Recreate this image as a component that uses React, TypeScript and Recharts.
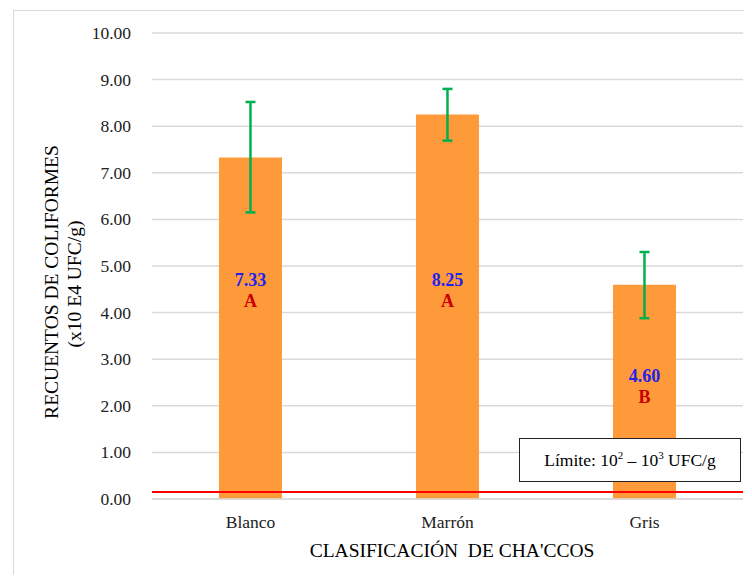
import React from 'react';
import {
  BarChart,
  Bar,
  XAxis,
  YAxis,
  CartesianGrid,
  ErrorBar,
  ReferenceLine,
  LabelList,
} from 'recharts';

const categories = ['Blanco', 'Marrón', 'Gris'];
const means = [7.33, 8.25, 4.6];
const errLow = [1.18, 0.56, 0.72];
const errHigh = [1.19, 0.55, 0.7];
const groups = ['A', 'A', 'B'];
const yTicks = [0, 1, 2, 3, 4, 5, 6, 7, 8, 9, 10];
const limit = 0.15;

const data = categories.map((c, i) => ({
  name: c,
  mean: means[i],
  err: [errLow[i], errHigh[i]],
  group: groups[i],
}));

const FONT = 'Liberation Serif';

// where the value/letter pair sits inside each bar (in axis units)
const labelLevel = [4.7, 4.7, 2.65];

const BarLabel = (props: any) => {
  const { x, y, width, height, index } = props;
  const v = means[index];
  const cy = y + height * (1 - labelLevel[index] / v);
  const cx = x + width / 2;
  return (
    <g style={{ fontFamily: FONT, fontWeight: 'bold', fontSize: 18 }} textAnchor='middle'>
      <text x={cx} y={cy} dominantBaseline='central' fill='#2222EE'>
        {v.toFixed(2)}
      </text>
      <text x={cx} y={cy + 21} dominantBaseline='central' fill='#CC0000'>
        {groups[index]}
      </text>
    </g>
  );
};

const YTick = (props: any) => {
  const { x, y, payload } = props;
  return (
    <text x={x - 13} y={y} textAnchor='end' dominantBaseline='central' fill='#222' style={{ fontFamily: FONT, fontSize: 17.5 }}>
      {Number(payload.value).toFixed(2)}
    </text>
  );
};

const XTick = (props: any) => {
  const { x, y, payload } = props;
  return (
    <text x={x} y={y + 15} textAnchor='middle' dominantBaseline='central' fill='#222' style={{ fontFamily: FONT, fontSize: 17.5 }}>
      {payload.value}
    </text>
  );
};

const Titles = () => (
  <g style={{ fontFamily: FONT, fontSize: 19.5 }} fill='#000' textAnchor='middle'>
    <text transform='translate(58,282) rotate(-90)'>RECUENTOS DE COLIFORMES</text>
    <text transform='translate(81,284) rotate(-90)'>(x10 E4 UFC/g)</text>
    <text x={452} y={557}>{"CLASIFICACIÓN\u00A0 DE CHA'CCOS"}</text>
  </g>
);

export default function App() {
  return (
    <div
      style={{
        position: 'relative',
        width: 752,
        height: 583,
        margin: -8,
        overflow: 'hidden',
        background: '#fff',
        fontFamily: FONT,
      }}
    >
      <div
        style={{
          position: 'absolute',
          left: 13,
          top: 10,
          width: 800,
          height: 700,
          border: '1px solid #d9d9d9',
        }}
      />
      <div style={{ position: 'absolute', left: 0, top: 0 }}>
        <BarChart
          width={752}
          height={583}
          data={data}
          margin={{ top: 33, right: 9, bottom: 0, left: 0 }}
          barCategoryGap='34%'
        >
          <CartesianGrid vertical={false} stroke='#d9d9d9' strokeWidth={1.5} />
          <XAxis
            dataKey='name'
            height={84}
            tickLine={false}
            axisLine={{ stroke: '#d9d9d9', strokeWidth: 1.5 }}
            tick={<XTick />}
          />
          <YAxis
            width={152}
            domain={[0, 10]}
            ticks={yTicks}
            tickLine={false}
            axisLine={false}
            tick={<YTick />}
          />
          <Bar dataKey='mean' fill='#FF9A3A' isAnimationActive={false}>
            <ErrorBar dataKey='err' width={5} strokeWidth={2.5} stroke='#00B050' direction='y' />
            <LabelList dataKey='mean' content={BarLabel} />
          </Bar>
          <ReferenceLine y={limit} stroke='#FF0000' strokeWidth={2} />
          <Titles />
        </BarChart>
      </div>
      <div
        style={{
          position: 'absolute',
          left: 519,
          top: 438,
          width: 222,
          height: 44,
          border: '1px solid #222',
          background: '#fff',
          fontFamily: FONT,
          fontSize: 17.5,
          color: '#000',
          display: 'flex',
          alignItems: 'center',
          justifyContent: 'center',
          boxSizing: 'border-box',
        }}
      >
        <span>
          Límite: 10<sup style={{ fontSize: 11 }}>2</sup> – 10<sup style={{ fontSize: 11 }}>3</sup> UFC/g
        </span>
      </div>
    </div>
  );
}
